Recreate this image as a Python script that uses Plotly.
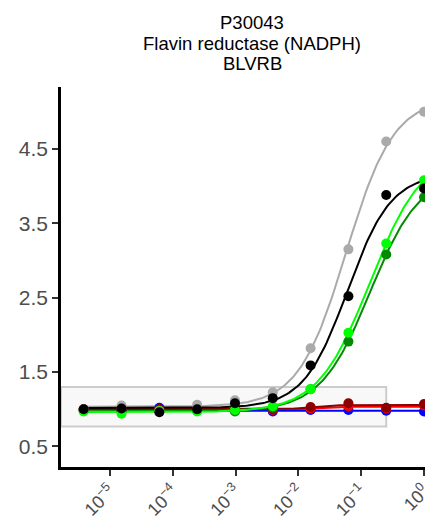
import numpy as np
import plotly.graph_objects as go

# ---- data ----
doses = [3.81e-06, 1.526e-05, 6.104e-05, 2.441e-04, 9.766e-04,
         3.906e-03, 1.5625e-02, 6.25e-02, 0.25, 1.0]

series_names = ["blue", "red", "darkred", "green4", "lime", "gray", "black"]
blue_vals    = [0.99, 1.00, 1.02, 0.98, 0.98, 0.97, 0.99, 0.99, 0.98, 0.97]
red_vals     = [1.00, 1.00, 1.00, 1.00, 0.99, 0.99, 1.01, 1.04, 1.01, 1.05]
darkred_vals = [1.00, 1.00, 1.00, 1.00, 1.00, 1.00, 1.03, 1.08, 1.02, 1.07]
green4_vals  = [0.98, 0.97, 0.98, 0.98, 0.97, 1.02, 1.27, 1.91, 3.08, 3.85]
lime_vals    = [0.97, 0.94, 0.98, 0.97, 0.99, 1.04, 1.27, 2.03, 3.23, 4.08]
gray_vals    = [1.00, 1.05, 0.97, 1.06, 1.12, 1.23, 1.82, 3.15, 4.60, 5.00]
black_vals   = [1.00, 1.01, 0.96, 1.00, 1.08, 1.15, 1.59, 2.52, 3.88, 3.97]

series_colors = ["#0000FF", "#FF0000", "#8B0000", "#008B00", "#00FF00", "#AAAAAA", "#000000"]

x_tickvals = [1e-5, 1e-4, 1e-3, 1e-2, 1e-1, 1e0]
x_ticktext = ["10<sup>\u22125</sup>", "10<sup>\u22124</sup>", "10<sup>\u22123</sup>",
              "10<sup>\u22122</sup>", "10<sup>\u22121</sup>", "10<sup>0</sup>"]
y_tickvals = [0.5, 1.5, 2.5, 3.5, 4.5]

title_lines = ["P30043", "Flavin reductase (NADPH)", "BLVRB"]

# highlighted window (baseline region)
box_x_max = 0.25
box_y = [0.77, 1.30]

all_vals = [blue_vals, red_vals, darkred_vals, green4_vals, lime_vals, gray_vals, black_vals]


def fit_loglogistic(x, y):
    """Least-squares 4-parameter log-logistic fit (grid over EC50/slope, linear for bottom/top)."""
    lx = np.log10(np.asarray(x))
    y = np.asarray(y)
    best = None
    for le in np.arange(-5.5, 1.01, 0.02):
        for h in np.arange(0.3, 3.01, 0.05):
            s = 1.0 / (1.0 + 10 ** (h * (le - lx)))
            A = np.column_stack([1 - s, s])
            coef, *_ = np.linalg.lstsq(A, y, rcond=None)
            sse = np.sum((A @ coef - y) ** 2)
            if best is None or sse < best[0]:
                best = (sse, le, h, coef)
    _, le, h, coef = best
    return le, h, coef


X_RANGE = [-5.78, 0.27]

fig = go.Figure()

# baseline window drawn as a filled trace in data coordinates
bx0 = 10 ** X_RANGE[0]
fig.add_trace(go.Scatter(
    x=[bx0, box_x_max, box_x_max, bx0, bx0],
    y=[box_y[0], box_y[0], box_y[1], box_y[1], box_y[0]],
    mode="lines", fill="toself", fillcolor="rgba(240,240,240,0.45)",
    line=dict(color="#CCCCCC", width=2), hoverinfo="skip", showlegend=False))

lx_grid = np.linspace(np.log10(min(doses)), np.log10(max(doses)), 200)
for name, vals, col in zip(series_names, all_vals, series_colors):
    le, h, (bot, top) = fit_loglogistic(doses, vals)
    s = 1.0 / (1.0 + 10 ** (h * (le - lx_grid)))
    yfit = bot + (top - bot) * s
    fig.add_trace(go.Scatter(x=10 ** lx_grid, y=yfit, mode="lines",
                             line=dict(color=col, width=2), name=name,
                             showlegend=False, hoverinfo="skip"))

for name, vals, col in zip(series_names, all_vals, series_colors):
    fig.add_trace(go.Scatter(x=doses, y=vals, mode="markers",
                             marker=dict(color=col, size=10, line=dict(width=0)),
                             name=name, showlegend=False))

for i, t in enumerate(title_lines):
    ypx = [23, 44, 64][i]
    fig.add_annotation(text=t, xref="paper", yref="paper",
                       x=0.503, y=(467 - ypx) / 380, xanchor="center", yanchor="middle",
                       showarrow=False, font=dict(size=18.5, color="black",
                                                  family="Liberation Sans, Arial, sans-serif"))

fig.update_layout(
    width=433, height=528,
    margin=dict(l=53, r=0, t=79, b=69, autoexpand=False),
    paper_bgcolor="white", plot_bgcolor="white",
    font=dict(family="Liberation Sans, Arial, sans-serif"),
    showlegend=False,
)
fig.update_xaxes(type="log", range=X_RANGE, automargin=False,
                 tickvals=x_tickvals, ticktext=x_ticktext, tickangle=-45,
                 ticks="outside", ticklen=6, tickwidth=2, tickcolor="#333333",
                 tickfont=dict(size=18, color="#4D4D4D"), ticklabelstandoff=-2,
                 showline=True, linecolor="black", linewidth=2.5,
                 showgrid=False, zeroline=False)
fig.update_yaxes(range=[0.224, 5.333], tickvals=y_tickvals, automargin=False,
                 ticks="outside", ticklen=6, tickwidth=2, tickcolor="#333333",
                 tickfont=dict(size=21, color="#4D4D4D"),
                 showline=True, linecolor="black", linewidth=2.5,
                 showgrid=False, zeroline=False)

fig.write_html("out.html")
